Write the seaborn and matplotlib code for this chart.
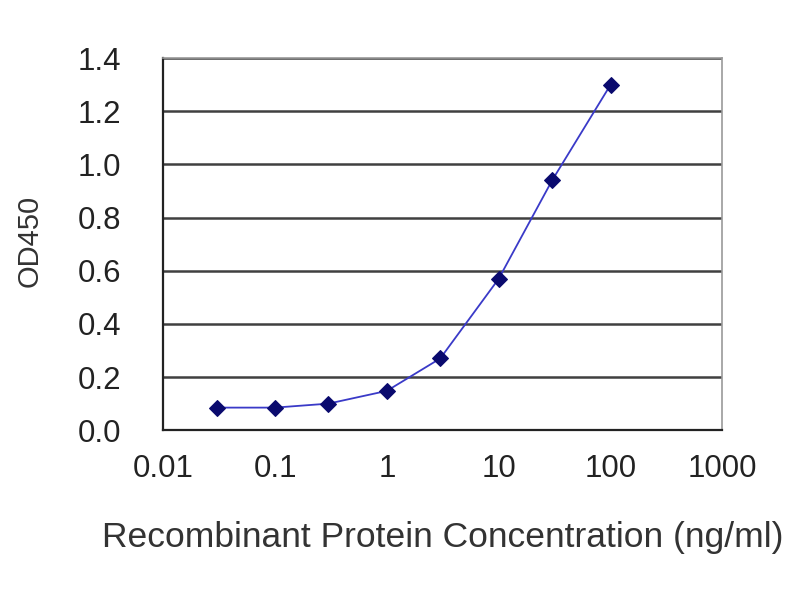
import matplotlib
matplotlib.use('Agg')
import matplotlib.pyplot as plt
import seaborn as sns
import pandas as pd
from matplotlib.ticker import FixedLocator, FixedFormatter

# concentration (ng/ml) and OD450 readings
conc = [0.03, 0.1, 0.3, 1, 3, 10, 30, 100]
od450 = [0.085, 0.085, 0.10, 0.148, 0.27, 0.57, 0.94, 1.30]
x_ticks = [0.01, 0.1, 1, 10, 100, 1000]
x_tick_labels = ['0.01', '0.1', '1', '10', '100', '1000']
y_ticks = [0.0, 0.2, 0.4, 0.6, 0.8, 1.0, 1.2, 1.4]


def set_style():
    sns.set_style('white')
    plt.rcParams['font.family'] = ['Liberation Sans', 'DejaVu Sans']
    plt.rcParams['xtick.labelsize'] = 22.5
    plt.rcParams['ytick.labelsize'] = 22.5


def plot_data(df, out_path):
    fig = plt.figure(figsize=(8, 6), dpi=100)
    ax = fig.add_axes([0.204, 0.283, 0.699, 0.62])
    for y in y_ticks[1:]:
        ax.axhline(y, color='#404040', lw=1.8, zorder=1)
    sns.lineplot(data=df, x='conc', y='od', ax=ax, color='#3a3ac8', lw=1.3,
                 marker='D', markersize=8, markerfacecolor='#0a0a6e',
                 markeredgecolor='#0a0a6e', zorder=3)
    ax.set_xscale('log')
    ax.set_xlim(0.01, 1000)
    ax.set_ylim(0, 1.4)
    ax.xaxis.set_major_locator(FixedLocator(x_ticks))
    ax.xaxis.set_major_formatter(FixedFormatter(x_tick_labels))
    ax.xaxis.set_minor_locator(FixedLocator([]))
    ax.set_yticks(y_ticks)
    ax.set_yticklabels(['%.1f' % v for v in y_ticks])
    ax.tick_params(axis='x', direction='in', length=5, width=1.2, colors='#333333',
                   labelcolor='#222222', pad=17)
    ax.tick_params(axis='y', direction='out', length=0, labelcolor='#222222', pad=30)
    for side in ['top', 'right']:
        ax.spines[side].set_color('#999999')
        ax.spines[side].set_linewidth(1.2)
    for side in ['left', 'bottom']:
        ax.spines[side].set_color('#222222')
        ax.spines[side].set_linewidth(1.6)
    ax.set_xlabel('Recombinant Protein Concentration (ng/ml)', fontsize=25.5,
                  color='#333333')
    ax.set_ylabel('OD450', fontsize=21, color='#333333')
    ax.xaxis.set_label_coords(0.5, -0.245)
    ax.yaxis.set_label_coords(-0.214, 0.51)
    fig.savefig(out_path, facecolor='white')
    plt.close(fig)


def main():
    set_style()
    df = pd.DataFrame({'conc': conc, 'od': od450})
    plot_data(df, 'out.png')


if __name__ == '__main__':
    main()
